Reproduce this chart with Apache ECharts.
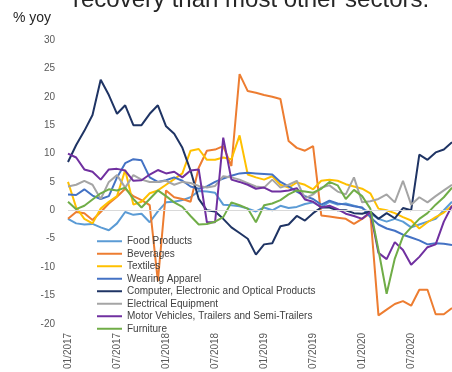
<!DOCTYPE html>
<html>
<head>
<meta charset="UTF-8">
<script src="https://cdn.jsdelivr.net/npm/echarts@6/dist/echarts.min.js"></script>
<style>
  html, body { margin: 0; padding: 0; background: #fff; }
  #main { width: 452px; height: 372px; }
</style>
</head>
<body>
<div id="main"></div>
<script>
// months 01/2017 .. 12/2020
var months = [];
for (var y = 2017; y <= 2020; y++) {
  for (var m = 1; m <= 12; m++) {
    months.push((m < 10 ? '0' + m : '' + m) + '/' + y);
  }
}

var names = ['Food Products', 'Beverages', 'Textiles', 'Wearing Apparel',
  'Computer, Electronic and Optical Products', 'Electrical Equipment',
  'Motor Vehicles, Trailers and Semi-Trailers', 'Furniture'];
var colors = ['#5B9BD5', '#ED7D31', '#FFC000', '#4472C4', '#1F3464', '#A5A5A5', '#7030A0', '#70AD47'];

var food = [-1.5, -2.3, -2.5, -2.4, -3, -3.5, -2.3, -0.3, -0.8, -0.6, -2.1, -0.2, 1.4, 1.5, 1.8, 2.3,
  3.4, 3.3, 3.1, 1, 0.9, 0.7, 0.3, -0.2, 0.5, 0, 0.8, 0.4, 0.6, 1.1, 1.4, 0.6,
  1.5, 1, 1.2, 0.8, 0.4, -0.5, -1.5, -2, -1.5, -2, -3, -2.5, -2, -1.5, 0, 1.5];
var beverages = [-1.5, -0.3, -0.5, -1.7, -0.3, 1.2, 2.4, 3.8, 2.5, 1.8, 0.9, -12.5, 3.5, 2.3, 2, 1.5,
  7.5, 10.5, 10.7, 11.3, 7.8, 24, 21, 20.7, 20.3, 20, 19.6, 12.2, 11, 10.5, 11.3, -0.9,
  -1.1, -1.3, -1.5, -2.4, -1.5, -0.5, -18.5, -17.5, -16.5, -16, -16.8, -14, -14, -18.3, -18.3, -17.2];
var textiles = [5, 0.5, -1.5, -2.3, 0.3, 1.5, 2.5, 7.1, 1, 1.5, 3, 3.5, 4.5, 5.5, 6.5, 10.5,
  10.8, 8.9, 8.9, 9.3, 9, 13.2, 6.3, 5.8, 5.4, 6, 4.5, 4, 4.9, 4.5, 3.7, 5.2,
  5.4, 5.2, 4.6, 4.2, 3.8, 3, 0.3, 0, -0.5, -1.2, -1.8, -3.2, -2.1, -1.2, -0.4, 0.8];
var wearing = [2.8, 2.7, 3.7, 2.6, 2, 2.5, 5.8, 8.3, 9, 8.8, 5.8, 5, 5.3, 5.8, 5.2, 4.2,
  3.8, 4.2, 5, 5.6, 6.1, 6.5, 6.6, 6.5, 6.4, 6.3, 5, 4.2, 3.3, 2.5, 2, 1,
  1.7, 1.2, 1, 0.7, 0.5, -1.2, -2.5, -3.2, -3.6, -4.3, -4.8, -5.3, -6, -5.8, -5.9, -6.1];
var computer = [8.5, 11.5, 14, 16.8, 23, 20.3, 17, 18.5, 15, 15, 17, 18.5, 14.8, 13.5, 11, 7,
  2, 0, -0.2, -1.5, -3, -4, -5, -7.8, -6, -5.8, -2.8, -2.5, -1, -1.8, -0.5, 0.5,
  0.5, 0, 0, -0.5, -0.6, -0.2, -1.5, -0.5, -1.4, 0.4, 0, 9.8, 8.9, 10.2, 10.7, 12];
var electrical = [4.2, 4.5, 5.2, 4.5, 2, 5, 6.2, 4, 6.2, 5.4, 5, 5, 5.2, 4.5, 5, 4.8,
  4.3, 4, 4.3, 6, 5.8, 5.4, 4.8, 4.2, 4, 5.4, 4, 4.5, 5.2, 2.1, 2.8, 4,
  4.4, 3.3, 2.8, 5.8, 1.4, 1.6, 2, 2.8, 1.4, 5.2, 1, 2.3, 1.4, 2.5, 3.5, 4.5];
var motor = [10, 9.3, 7.2, 6.8, 5.4, 7.2, 7.3, 7, 5.2, 5.3, 6.3, 7.1, 6.5, 6.8, 5.8, 7,
  7.2, -2.1, -2.1, 12.8, 5.4, 5, 4.5, 3.8, 4, 3.3, 3.3, 3.5, 3.9, 1.9, 1.5, 0.5,
  0.8, 0.2, -0.6, -1, -1.5, -0.3, -7.5, -8.6, -5.6, -7, -9.6, -8.2, -6.5, -6, -2, 0.8];
var furniture = [1.5, 0.2, 0.8, 1.9, 3, 3.7, 3.5, 4, 2, 0.5, 2, 3.5, 2.5, 1.4, 0.6, -1,
  -2.5, -2.4, -2, -1.2, 1.4, 0.9, 0.3, -2.1, 0.9, 1.2, 1.8, 2.8, 3.5, 3.3, 3.1, 3.8,
  5, 4.4, 2, 3.6, 2.5, 0.3, -7, -14.7, -8.5, -4.6, -3, -1.5, -0.5, 1, 2.3, 4];

var allData = [food, beverages, textiles, wearing, computer, electrical, motor, furniture];

var series = [];
for (var i = 0; i < names.length; i++) {
  var s = {
    name: names[i],
    type: 'line',
    data: allData[i],
    showSymbol: false,
    lineStyle: { width: 2, color: colors[i] },
    itemStyle: { color: colors[i] }
  };
  if (i == 0) {
    // zero line
    s.markLine = {
      silent: true,
      symbol: 'none',
      label: { show: false },
      lineStyle: { color: '#D9D9D9', width: 1, type: 'solid' },
      data: [{ yAxis: 0 }]
    };
  }
  series.push(s);
}

var myChart = echarts.init(document.getElementById('main'));
myChart.setOption({
  animation: false,
  color: colors,
  graphic: [
    {
      type: 'text', left: 73, top: -12,
      style: { text: 'recovery than most other sectors.', fontSize: 24, fill: '#262626', fontFamily: 'Liberation Sans, Arial' }
    },
    {
      type: 'text', left: 13, top: 11,
      style: { text: '% yoy', fontSize: 14, fill: '#262626', fontFamily: 'Liberation Sans, Arial' }
    }
  ],
  legend: {
    orient: 'vertical',
    left: 92,
    top: 230,
    icon: 'rect',
    itemWidth: 25,
    itemHeight: 2,
    itemGap: 0,
    textStyle: { fontSize: 10, color: '#404040', lineHeight: 12.5, fontFamily: 'Liberation Sans, Arial' },
    data: names
  },
  grid: { left: 68, top: 40, width: 385, height: 287 },
  xAxis: {
    type: 'category',
    data: months,
    boundaryGap: false,
    axisLine: { show: false },
    axisTick: { show: false },
    axisLabel: {
      interval: 5,
      rotate: 90,
      margin: 9,
      fontSize: 10,
      color: '#595959',
      fontFamily: 'Liberation Sans, Arial'
    }
  },
  yAxis: {
    type: 'value',
    min: -20,
    max: 30,
    interval: 5,
    axisLine: { show: false },
    axisTick: { show: false },
    splitLine: { show: false },
    axisLabel: { margin: 13, fontSize: 10, color: '#595959', fontFamily: 'Liberation Sans, Arial' }
  },
  series: series
});
</script>
</body>
</html>
